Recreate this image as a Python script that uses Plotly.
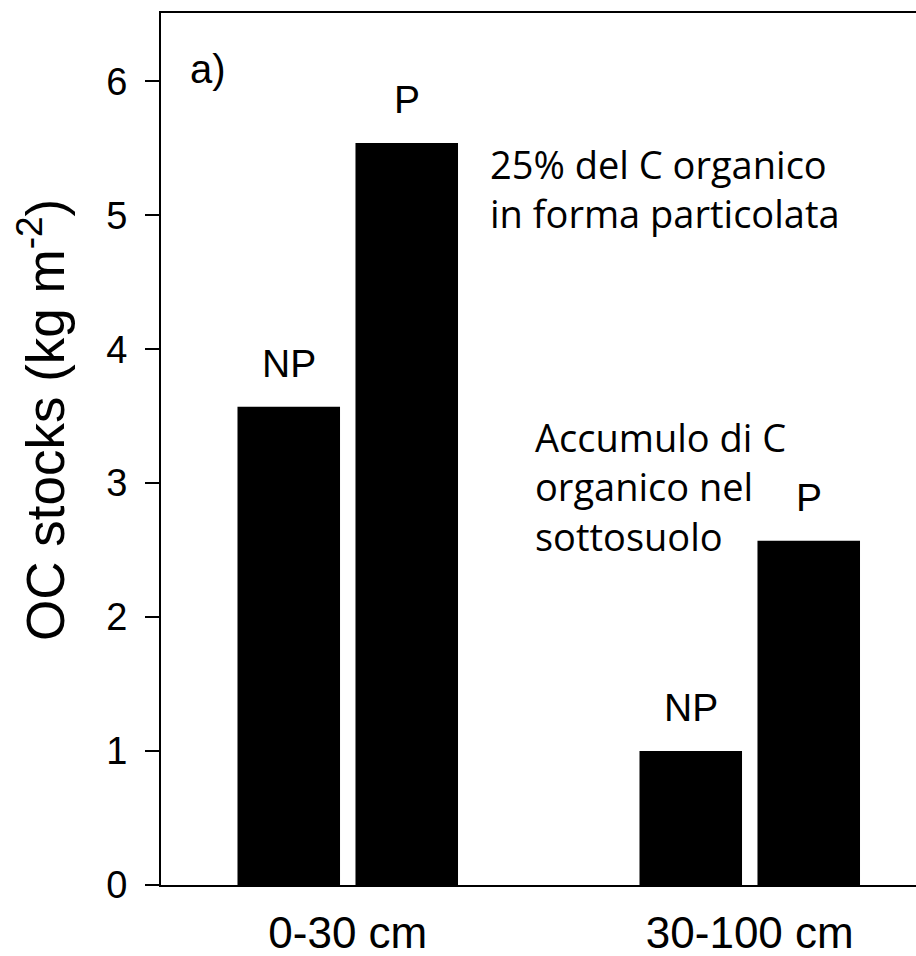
import plotly.graph_objects as go

depths = ["0-30 cm", "30-100 cm"]
series_names = ["NP", "P"]
np_values = [3.57, 1.00]
p_values = [5.54, 2.57]
y_ticks = [0, 1, 2, 3, 4, 5, 6]
y_title = "OC stocks (kg m<sup>-2</sup>)"
panel_label = "a)"
note_top = "25% del C organico<br>in forma particolata"
note_sub = "Accumulo di C<br>organico nel<br>sottosuolo"

W, H = 916, 956
L, R, T, B = 161, 0, 13, 71
bargap = 0.413
bargroupgap = 0.131
ARIAL = "Liberation Sans, Arial, sans-serif"
SEGOE = "Open Sans, Noto Sans, sans-serif"

fig = go.Figure()
for name, vals in zip(series_names, [np_values, p_values]):
    fig.add_trace(go.Bar(x=depths, y=vals, name=name,
                         marker=dict(color="black", line=dict(width=0))))

# bar labels above each bar
slot = (1 - bargap) / 2
for j, (name, vals) in enumerate(zip(series_names, [np_values, p_values])):
    for i, v in enumerate(vals):
        fig.add_annotation(x=i + (j - 0.5) * slot, y=v, xref="x", yref="y",
                           text=name, showarrow=False, yanchor="bottom",
                           yshift=20, font=dict(family=ARIAL, size=39, color="black"))

pw, ph = W - L - R, H - T - B
fig.add_annotation(xref="paper", yref="paper", x=(188 - L) / pw,
                   y=(H - B - 69) / ph, xanchor="left", yanchor="middle",
                   text=panel_label, showarrow=False,
                   font=dict(family=ARIAL, size=40, color="black"))
fig.add_annotation(xref="paper", yref="paper", x=(488 - L) / pw,
                   y=(H - B - 188) / ph, xanchor="left", yanchor="middle",
                   align="left", text=note_top, showarrow=False,
                   font=dict(family=SEGOE, size=38, color="black"))
fig.add_annotation(xref="paper", yref="paper", x=(533 - L) / pw,
                   y=(H - B - 486) / ph, xanchor="left", yanchor="middle",
                   align="left", text=note_sub, showarrow=False,
                   font=dict(family=SEGOE, size=38, color="black"))
fig.add_annotation(xref="paper", yref="paper", x=(41 - L) / pw,
                   y=(H - B - 420) / ph, xanchor="center", yanchor="middle",
                   textangle=-90, text=y_title, showarrow=False,
                   font=dict(family=ARIAL, size=53, color="black"))

left_units = (347.75 - L) / 402
fig.update_layout(
    width=W, height=H, margin=dict(l=L, r=R, t=T, b=B, pad=0, autoexpand=False),
    paper_bgcolor="white", plot_bgcolor="white",
    barmode="group", bargap=bargap, bargroupgap=bargroupgap,
    showlegend=False,
    xaxis=dict(type="category", range=[-left_units, -left_units + pw / 402],
               showline=True, linecolor="black", linewidth=2, mirror=True,
               ticks="", showgrid=False, zeroline=False, automargin=False,
               tickfont=dict(family=ARIAL, size=44, color="black"),
               ticklabelstandoff=8),
    yaxis=dict(range=[0, 6.51], tickvals=y_ticks, showline=True, linecolor="black",
               linewidth=2, ticks="outside", ticklen=14, tickwidth=2, tickcolor="black",
               showgrid=False, zeroline=False, automargin=False,
               tickfont=dict(family=ARIAL, size=38, color="black"),
               ticklabelstandoff=10),
)
fig.write_html("out.html")
